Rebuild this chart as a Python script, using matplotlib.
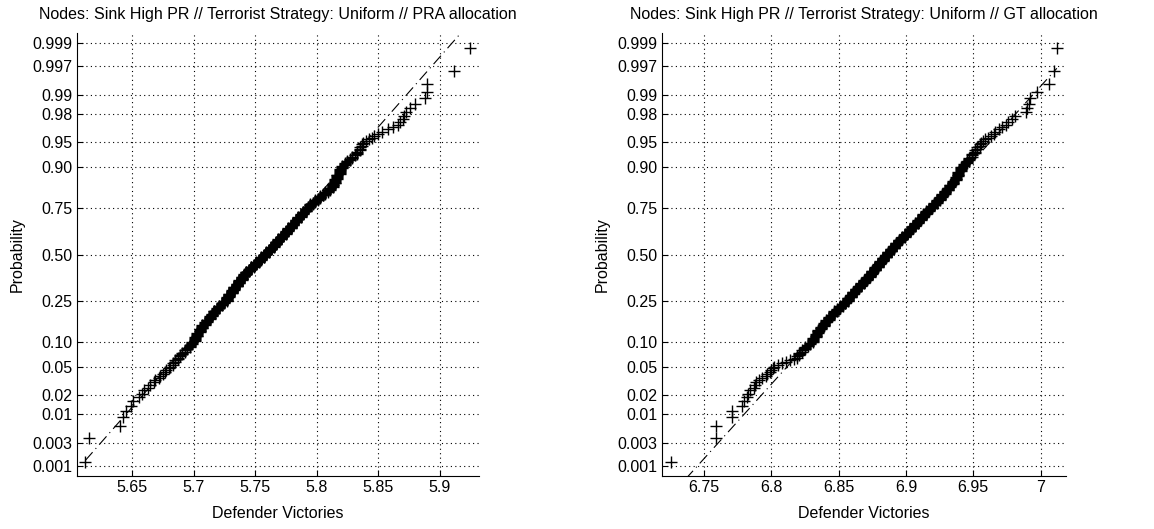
import numpy as np
import matplotlib
matplotlib.use("Agg")
import matplotlib.pyplot as plt
from statistics import NormalDist

plt.rcParams['font.family'] = ['Liberation Sans', 'DejaVu Sans']

# ---- data (n = 400 runs each) ----
# PRA allocation: isolated low-tail points, binned middle, isolated high-tail points
pra_low = [5.612, 5.615, 5.640, 5.643, 5.645, 5.649, 5.651, 5.656, 5.658, 5.660,
           5.663, 5.665, 5.668, 5.669, 5.672, 5.673, 5.675, 5.677, 5.678, 5.680, 5.681]
pra_mid = [5.683, 5.685, 5.687, 5.689, 5.691, 5.693, 5.695, 5.697, 5.699,
           5.701, 5.703, 5.705, 5.707,
           5.709, 5.711, 5.713, 5.715, 5.717, 5.719, 5.721, 5.723, 5.725,
           5.727, 5.729, 5.731, 5.733, 5.735, 5.737, 5.739,
           5.741, 5.743, 5.745, 5.747, 5.749, 5.751, 5.753, 5.755, 5.757,
           5.759, 5.761, 5.763, 5.765, 5.767, 5.769, 5.771, 5.773, 5.775,
           5.777, 5.779, 5.781, 5.783, 5.785, 5.787, 5.789, 5.791,
           5.793, 5.795, 5.797, 5.799, 5.801, 5.803, 5.805, 5.807, 5.809,
           5.811, 5.813, 5.815, 5.817, 5.819,
           5.821, 5.823, 5.825, 5.827, 5.829, 5.831, 5.833, 5.835, 5.837]
pra_mid_counts = [2, 2, 2, 2, 2, 2, 2, 3, 3,
                  5, 5, 5, 5,
                  4, 4, 5, 4, 5, 4, 5, 4, 4,
                  7, 7, 7, 7, 7, 7, 8,
                  5, 6, 5, 6, 5, 6, 5, 6, 6,
                  6, 6, 6, 6, 6, 6, 6, 6, 6,
                  6, 6, 6, 6, 6, 5, 5, 6,
                  4, 4, 3, 4, 3, 4, 3, 3, 3,
                  4, 5, 6, 6, 6,
                  3, 3, 2, 2, 2, 1, 3, 3, 2]
pra_high = [5.838, 5.840, 5.843, 5.845, 5.847, 5.850, 5.853, 5.858, 5.862, 5.866,
            5.868, 5.870, 5.871, 5.873, 5.876, 5.880, 5.888, 5.890, 5.890, 5.912, 5.925]

# GT allocation
gt_low = [6.726, 6.759, 6.759, 6.771, 6.771, 6.778, 6.780, 6.782, 6.783, 6.784,
          6.787, 6.788, 6.789, 6.791, 6.793, 6.796, 6.797, 6.799, 6.800, 6.801,
          6.802, 6.805, 6.808, 6.811, 6.814, 6.817]
gt_mid = [6.819, 6.821, 6.823, 6.825, 6.827, 6.829,
          6.831, 6.833, 6.835,
          6.837, 6.839, 6.841, 6.843, 6.845, 6.847, 6.849, 6.851, 6.853, 6.855,
          6.857, 6.859, 6.861, 6.863, 6.865, 6.867, 6.869,
          6.871, 6.873, 6.875, 6.877, 6.879, 6.881, 6.883, 6.885,
          6.887, 6.889, 6.891, 6.893, 6.895, 6.897,
          6.899, 6.901, 6.903, 6.905, 6.907, 6.909, 6.911, 6.913, 6.915, 6.917,
          6.919, 6.921, 6.923, 6.925, 6.927, 6.929, 6.931, 6.933,
          6.935, 6.937, 6.939, 6.941,
          6.943, 6.945, 6.947, 6.949,
          6.951, 6.953, 6.955]
gt_mid_counts = [2, 3, 2, 3, 2, 2,
                 5, 5, 5,
                 4, 5, 4, 5, 4, 5, 4, 5, 4, 5,
                 6, 6, 6, 6, 6, 6, 6,
                 7, 7, 7, 8, 7, 7, 8, 7,
                 7, 7, 7, 7, 7, 6,
                 6, 6, 6, 6, 6, 6, 6, 6, 6, 5,
                 5, 5, 5, 5, 5, 5, 5, 4,
                 5, 5, 6, 5,
                 3, 3, 3, 3,
                 3, 2, 2]
gt_high = [6.956, 6.957, 6.959, 6.961, 6.963, 6.965, 6.966, 6.969, 6.971, 6.974,
           6.976, 6.979, 6.981, 6.989, 6.990, 6.991, 6.992, 6.997, 7.006, 7.010, 7.012]

prob_ticks = [0.001, 0.003, 0.01, 0.02, 0.05, 0.10, 0.25, 0.50, 0.75, 0.90,
              0.95, 0.98, 0.99, 0.997, 0.999]
prob_labels = ['0.001', '0.003', '0.01', '0.02', '0.05', '0.10', '0.25', '0.50',
               '0.75', '0.90', '0.95', '0.98', '0.99', '0.997', '0.999']
pra_xticks = [5.65, 5.7, 5.75, 5.8, 5.85, 5.9]
pra_xlabels = ['5.65', '5.7', '5.75', '5.8', '5.85', '5.9']
gt_xticks = [6.75, 6.8, 6.85, 6.9, 6.95, 7.0]
gt_xlabels = ['6.75', '6.8', '6.85', '6.9', '6.95', '7']

nd = NormalDist()
_ppf = np.vectorize(nd.inv_cdf, otypes=[float])
_cdf = np.vectorize(nd.cdf, otypes=[float])


def to_z(p):
    p = np.clip(np.asarray(p, dtype=float), 1e-12, 1 - 1e-12)
    return _ppf(p)


def from_z(z):
    return _cdf(np.asarray(z, dtype=float))


def normplot(ax, data, title, xlim, xticks, xlabels):
    x = np.sort(np.asarray(data))
    n = len(x)
    p = (np.arange(1, n + 1) - 0.5) / n
    ax.set_yscale('function', functions=(to_z, from_z))

    # reference line through the quartiles, extended over the data range
    q1, q3 = np.percentile(x, [25, 75], method='hazen')
    z1, z3 = nd.inv_cdf(0.25), nd.inv_cdf(0.75)
    slope = (z3 - z1) / (q3 - q1)
    xs = np.array([x[0], x[-1]])
    zs = z1 + slope * (xs - q1)
    ax.plot(xs, from_z(zs), color='black', lw=0.8, ls=(0, (10, 4, 1, 4)))
    ax.plot([q1, q3], [0.25, 0.75], color='black', lw=0.8)

    ax.plot(x, p, '+', color='black', ms=9, mew=1.0)

    ax.set_xlim(*xlim)
    ax.set_ylim(from_z(-3.23), from_z(3.235))
    ax.set_yticks(prob_ticks)
    ax.set_yticklabels(prob_labels)
    ax.set_xticks(xticks)
    ax.set_xticklabels(xlabels)
    ax.minorticks_off()
    ax.grid(True, color='black', lw=0.8, ls=(0, (1, 3)))
    ax.spines['top'].set_visible(False)
    ax.spines['right'].set_visible(False)
    ax.tick_params(direction='in', length=4, labelsize=11.5, width=0.8, pad=3)
    ax.set_title(title, fontsize=11.5, pad=10)
    ax.set_xlabel('Defender Victories', fontsize=11.5, labelpad=8)
    ax.set_ylabel('Probability', fontsize=11.5, labelpad=6)


pra_data = pra_low + list(np.repeat(pra_mid, pra_mid_counts)) + pra_high
gt_data = gt_low + list(np.repeat(gt_mid, gt_mid_counts)) + gt_high

fig = plt.figure(figsize=(11.54, 5.29), dpi=100)
ax1 = fig.add_axes([77 / 1154, 53 / 529, 402 / 1154, 443 / 529])
ax2 = fig.add_axes([662 / 1154, 53 / 529, 404 / 1154, 443 / 529])

normplot(ax1, pra_data,
         'Nodes: Sink High PR // Terrorist Strategy: Uniform // PRA allocation',
         (5.6053, 5.932), pra_xticks, pra_xlabels)
normplot(ax2, gt_data,
         'Nodes: Sink High PR // Terrorist Strategy: Uniform // GT allocation',
         (6.719, 7.0188), gt_xticks, gt_xlabels)

fig.savefig('out.png', dpi=100)
